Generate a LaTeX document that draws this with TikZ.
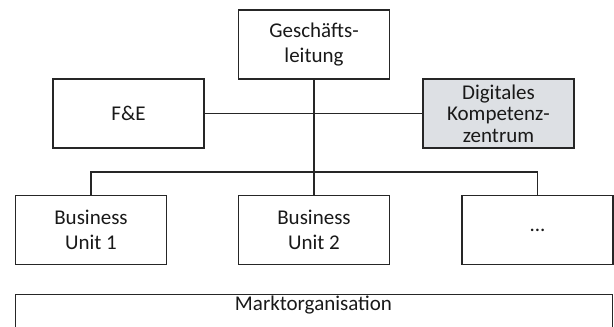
\documentclass[tikz,border=0pt]{standalone}
\usepackage{fontspec}
\setmainfont{Carlito}
\begin{document}
\begin{tikzpicture}[x=1pt,y=-1pt,
  box/.style={draw=black!85, line width=1.1pt, minimum width=151pt, minimum height=69pt, inner sep=0pt, align=center, font=\fontsize{21}{24.5}\selectfont, text=black!90},
  conn/.style={draw=black!85, line width=1.1pt}]
\useasboundingbox (0,0) rectangle (614,327);
\clip (0,0) rectangle (614,327);
\node[box] (gl) at (314,44.5) {Geschäfts-\\leitung};
\node[box] (fe) at (128.5,113.5) {F\&E};
\node[box, fill={rgb,255:red,221;green,224;blue,228}, font=\fontsize{21}{21.5}\selectfont] (dk) at (498.5,113.5) {Digitales\\Kompetenz-\\zentrum};
\node[box] (bu1) at (91,230) {Business\\Unit 1};
\node[box] (bu2) at (314,230) {Business\\Unit 2};
\node[box] (bu3) at (537.5,230) {...};
\node[box, minimum width=597pt, minimum height=40pt, anchor=north west] (mo) at (15,294) {};
\node[font=\fontsize{21}{24}\selectfont, text=black!90] (motext) at (313.5,305) {Marktorganisation};
\coordinate (bus) at (314,172);
\draw[conn] (gl.south) -- (bu2.north);
\draw[conn] (fe.east) -- (dk.west);
\draw[conn] (bu1.north) |- (bus) -| (bu3.north);
\end{tikzpicture}
\end{document}
